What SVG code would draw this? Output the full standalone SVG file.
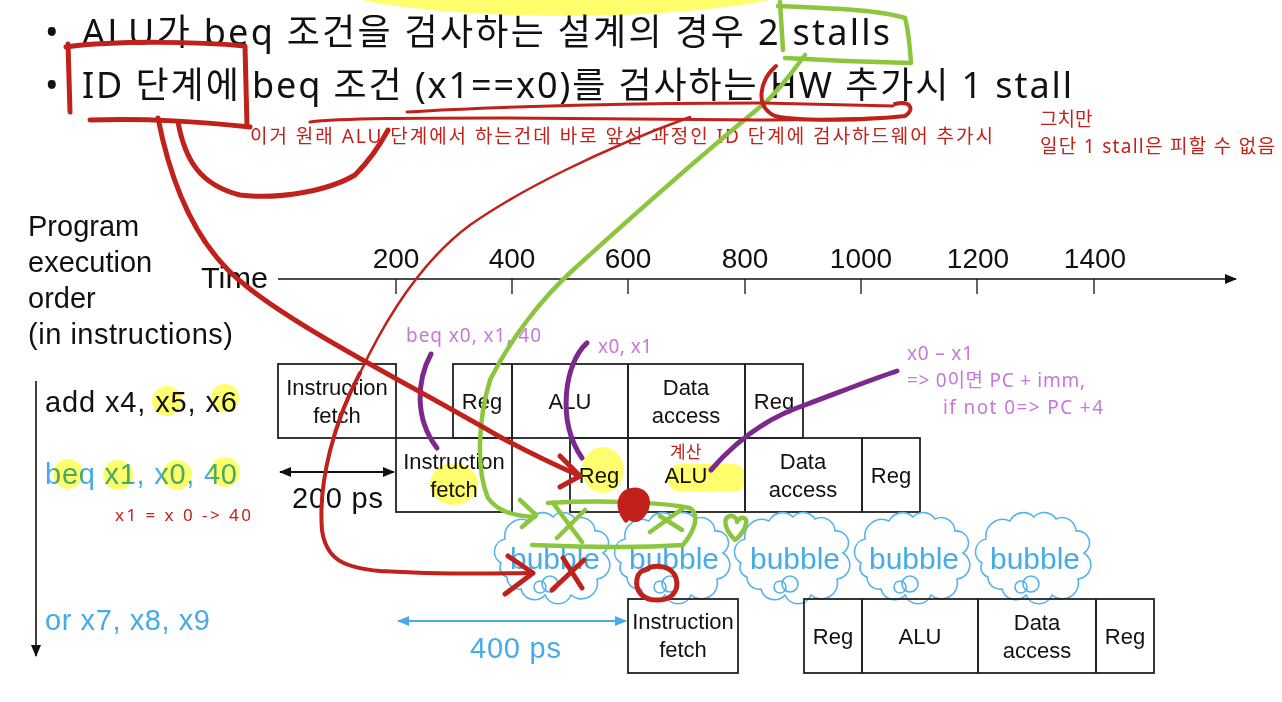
<svg xmlns="http://www.w3.org/2000/svg" width="1282" height="702" viewBox="0 0 1282 702">
<style>
.ttl{font-family:"Noto Sans","Noto Sans CJK KR",sans-serif;font-size:36px;fill:#111}
.ar{font-family:"Liberation Sans",Arial,sans-serif;fill:#111}
.big{font-size:29px}
.lbl{font-size:22px;text-anchor:middle}
.num{font-size:28px;text-anchor:middle}
.blue{fill:#47ABE8}
.kr{font-family:"Noto Sans","Noto Sans CJK KR",sans-serif}
.rt{fill:#C22119;font-size:19px}
.pt{fill:#C678D9;font-size:19px}
.box{fill:none;stroke:#222;stroke-width:1.8}
.hl{fill:#FFFF6E;mix-blend-mode:multiply}
.red{fill:none;stroke:#C0211B;stroke-linecap:round;stroke-linejoin:round}
.pur{fill:none;stroke:#7B2A8C;stroke-width:5;stroke-linecap:round}
.grn{fill:none;stroke:#8CC63F;stroke-width:4.5;stroke-linecap:round;stroke-linejoin:round}
.cloud{fill:none;stroke:#56B3EA;stroke-width:1.6}
.btxt{font-family:"Liberation Sans",Arial,sans-serif;font-size:30px;fill:#47ABE8;text-anchor:middle}
</style>
<defs>
<g id="cloud">
<path class="cloud" d="M -50 8 A 13 13 0 0 1 -46 -16 A 17 17 0 0 1 -22 -34 A 15 15 0 0 1 2 -38 A 14 14 0 0 1 24 -36 A 14 14 0 0 1 44 -24 A 12 12 0 0 1 52 -2 A 14 14 0 0 1 46 24 A 16 16 0 0 1 20 40 A 14 14 0 0 1 -6 40 A 14 14 0 0 1 -30 34 A 12 12 0 0 1 -44 22 A 10 10 0 0 1 -50 8 Z"/>
<circle class="cloud" cx="-11" cy="32" r="6"/>
<circle class="cloud" cx="-1" cy="29" r="8"/>
</g>
<marker id="ahb" viewBox="0 0 12 10" refX="11" refY="5" markerWidth="12" markerHeight="10" markerUnits="userSpaceOnUse" orient="auto-start-reverse"><path d="M0 0 L12 5 L0 10 Z" fill="#111"/></marker>
<marker id="ahl" viewBox="0 0 12 10" refX="11" refY="5" markerWidth="12" markerHeight="10" markerUnits="userSpaceOnUse" orient="auto-start-reverse"><path d="M0 0 L12 5 L0 10 Z" fill="#47ABE8"/></marker>
</defs>
<rect width="1282" height="702" fill="#fff"/>

<!-- top yellow highlight -->
<ellipse class="hl" cx="565" cy="-27" rx="262" ry="43"/>

<!-- title -->
<g id="title">
<text class="ttl" x="45" y="45">•</text>
<text class="ttl" x="82" y="45" textLength="808" lengthAdjust="spacing">ALU가 beq 조건을 검사하는 설계의 경우 2 stalls</text>
<text class="ttl" x="45" y="98">•</text>
<text class="ttl" x="82" y="98" textLength="990" lengthAdjust="spacing">ID 단계에 beq 조건 (x1==x0)를 검사하는 HW 추가시  1 stall</text>
</g>

<!-- notes -->
<g id="notes">
<text class="kr rt" x="250" y="143" textLength="743" lengthAdjust="spacing">이거 원래 ALU 단계에서 하는건데 바로 앞선 과정인 ID 단계에 검사하드웨어 추가시</text>
<text class="kr rt" x="1040" y="126">그치만</text>
<text class="kr rt" x="1040" y="153" textLength="235" lengthAdjust="spacing">일단 1 stall은 피할 수 없음</text>
<text class="kr pt" x="406" y="342" textLength="135" lengthAdjust="spacing">beq x0, x1, 40</text>
<text class="kr pt" x="598" y="353" textLength="54" lengthAdjust="spacing">x0, x1</text>
<text class="kr pt" x="907" y="360" textLength="66" lengthAdjust="spacing">x0 – x1</text>
<text class="kr pt" x="907" y="387" textLength="178" lengthAdjust="spacing">=&gt; 0이면 PC + imm,</text>
<text class="kr pt" x="943" y="414" textLength="160" lengthAdjust="spacing">if not 0=&gt; PC +4</text>
<text class="kr" x="670" y="458" font-size="17" fill="#C22119">계산</text>
<text class="kr" x="115" y="521" font-size="17" fill="#C22119" textLength="136" lengthAdjust="spacing">x1 = x 0 -&gt; 40</text>
</g>

<!-- left labels -->
<g id="order-label" class="ar big">
<text x="28" y="236">Program</text>
<text x="28" y="272">execution</text>
<text x="28" y="308">order</text>
<text x="28" y="344" textLength="205" lengthAdjust="spacing">(in instructions)</text>
</g>
<g id="instr-add"><text class="ar big" x="45" y="412" textLength="192" lengthAdjust="spacing">add x4, x5, x6</text></g>
<g id="instr-beq"><text class="ar big blue" x="45" y="484" textLength="192" lengthAdjust="spacing">beq x1, x0, 40</text></g>
<g id="instr-or"><text class="ar big blue" x="45" y="630" textLength="165" lengthAdjust="spacing">or x7, x8, x9</text></g>

<!-- time axis labels -->
<g id="time-axis" class="ar">
<text x="201" y="288" font-size="29" textLength="67" lengthAdjust="spacingAndGlyphs">Time</text>
<text class="num" x="396" y="268">200</text>
<text class="num" x="512" y="268">400</text>
<text class="num" x="628" y="268">600</text>
<text class="num" x="745" y="268">800</text>
<text class="num" x="861" y="268">1000</text>
<text class="num" x="978" y="268">1200</text>
<text class="num" x="1095" y="268">1400</text>
</g>

<!-- row 1: add -->
<g id="add-IF"><rect class="box" x="278" y="364" width="118" height="74"/><text class="ar lbl" x="337" y="395">Instruction</text><text class="ar lbl" x="337" y="423">fetch</text></g>
<g id="add-Reg1"><rect class="box" x="453" y="364" width="59" height="74"/><text class="ar lbl" x="482" y="409">Reg</text></g>
<g id="add-ALU"><rect class="box" x="512" y="364" width="116" height="74"/><text class="ar lbl" x="570" y="409">ALU</text></g>
<g id="add-DA"><rect class="box" x="628" y="364" width="117" height="74"/><text class="ar lbl" x="686" y="395">Data</text><text class="ar lbl" x="686" y="423">access</text></g>
<g id="add-Reg2"><rect class="box" x="745" y="364" width="58" height="74"/><text class="ar lbl" x="774" y="409">Reg</text></g>

<!-- row 2: beq -->
<g id="beq-IF"><rect class="box" x="396" y="438" width="116" height="74"/><text class="ar lbl" x="454" y="469">Instruction</text><text class="ar lbl" x="454" y="497">fetch</text></g>
<g id="beq-Reg1"><rect class="box" x="570" y="438" width="58" height="74"/><text class="ar lbl" x="599" y="483">Reg</text></g>
<g id="beq-ALU"><rect class="box" x="628" y="438" width="117" height="74"/><text class="ar lbl" x="686" y="483">ALU</text></g>
<g id="beq-DA"><rect class="box" x="745" y="438" width="117" height="74"/><text class="ar lbl" x="803" y="469">Data</text><text class="ar lbl" x="803" y="497">access</text></g>
<g id="beq-Reg2"><rect class="box" x="862" y="438" width="58" height="74"/><text class="ar lbl" x="891" y="483">Reg</text></g>

<!-- bubbles -->
<g id="bubble1"><use href="#cloud" x="551" y="555"/><text class="btxt" x="555" y="569">bubble</text></g>
<g id="bubble2"><use href="#cloud" x="671" y="555"/><text class="btxt" x="674" y="569">bubble</text></g>
<g id="bubble3"><use href="#cloud" x="791" y="555"/><text class="btxt" x="795" y="569">bubble</text></g>
<g id="bubble4"><use href="#cloud" x="911" y="555"/><text class="btxt" x="914" y="569">bubble</text></g>
<g id="bubble5"><use href="#cloud" x="1032" y="555"/><text class="btxt" x="1035" y="569">bubble</text></g>

<!-- row 3: or -->
<g id="or-IF"><rect class="box" x="628" y="599" width="110" height="74"/><text class="ar lbl" x="683" y="629">Instruction</text><text class="ar lbl" x="683" y="657">fetch</text></g>
<g id="or-Reg1"><rect class="box" x="804" y="599" width="58" height="74"/><text class="ar lbl" x="833" y="644">Reg</text></g>
<g id="or-ALU"><rect class="box" x="862" y="599" width="116" height="74"/><text class="ar lbl" x="920" y="644">ALU</text></g>
<g id="or-DA"><rect class="box" x="978" y="599" width="118" height="74"/><text class="ar lbl" x="1037" y="630">Data</text><text class="ar lbl" x="1037" y="658">access</text></g>
<g id="or-Reg2"><rect class="box" x="1096" y="599" width="58" height="74"/><text class="ar lbl" x="1125" y="644">Reg</text></g>

<!-- dimension labels -->
<g id="dim-200"><text class="ar big" x="292" y="508" textLength="91" lengthAdjust="spacing">200 ps</text></g>
<g id="dim-400"><text class="ar big blue" x="470" y="658" textLength="91" lengthAdjust="spacing">400 ps</text></g>

<!-- connectors -->
<g id="connectors" fill="none">
<line x1="278" y1="279" x2="1236" y2="279" stroke="#111" stroke-width="1.6" marker-end="url(#ahb)"/>
<g stroke="#111" stroke-width="1.3">
<line x1="396" y1="279" x2="396" y2="294"/><line x1="512" y1="279" x2="512" y2="294"/><line x1="628" y1="279" x2="628" y2="294"/><line x1="745" y1="279" x2="745" y2="294"/><line x1="861" y1="279" x2="861" y2="294"/><line x1="977" y1="279" x2="977" y2="294"/><line x1="1094" y1="279" x2="1094" y2="294"/>
</g>
<line x1="36" y1="381" x2="36" y2="656" stroke="#111" stroke-width="1.6" marker-end="url(#ahb)"/>
<line x1="280" y1="472" x2="394" y2="472" stroke="#111" stroke-width="2" marker-start="url(#ahb)" marker-end="url(#ahb)"/>
<line x1="398" y1="621" x2="626" y2="621" stroke="#47ABE8" stroke-width="2" marker-start="url(#ahl)" marker-end="url(#ahl)"/>
</g>

<!-- yellow highlights (multiply) -->
<g id="highlights">
<circle class="hl" cx="167" cy="401" r="15"/>
<circle class="hl" cx="225" cy="398" r="14"/>
<circle class="hl" cx="68" cy="474" r="15"/>
<circle class="hl" cx="118" cy="475" r="15"/>
<circle class="hl" cx="177" cy="475" r="15"/>
<circle class="hl" cx="225" cy="472" r="15"/>
<ellipse class="hl" cx="454" cy="484" rx="24" ry="21"/>
<ellipse class="hl" cx="603" cy="470" rx="21" ry="23"/>
<rect class="hl" x="668" y="464" width="78" height="28" rx="13"/>
</g>

<!-- handwritten annotations -->
<g id="ink-purple">
<path class="pur" d="M 431 354 C 417 380, 414 418, 437 448"/>
<path class="pur" d="M 587 343 C 565 362, 556 420, 582 458"/>
<path class="pur" d="M 711 470 C 730 448, 760 420, 805 405 C 840 392, 870 380, 897 371"/>
</g>
<g id="ink-green">
<path class="grn" d="M 780 2 L 783 50"/>
<path class="grn" d="M 778 6 C 830 8, 880 10, 905 18 C 909 32, 910 50, 911 63 C 870 62, 820 60, 785 58"/>
<path class="grn" d="M 805 55 C 790 75, 775 95, 760 107 C 720 140, 650 200, 573 270 C 540 300, 510 340, 490 380 C 478 420, 476 470, 488 498 C 498 512, 515 516, 535 517"/>
<path class="grn" d="M 520 500 L 536 515 L 522 527"/>
<path class="grn" d="M 548 503 C 600 500, 660 502, 690 508 C 700 515, 695 530, 683 545 C 640 548, 580 547, 532 545"/>
<path class="grn" d="M 553 503 L 582 542 M 585 510 L 557 538"/>
<path class="grn" d="M 650 532 L 682 509 M 660 516 L 682 530"/>
<path class="grn" d="M 735 540 C 725 530, 722 518, 730 516 C 735 515, 737 520, 737 522 C 740 516, 748 516, 746 524 C 744 532, 738 538, 735 540 Z"/>
</g>
<g id="ink-red">
<path class="red" stroke-width="5" d="M 68 44 L 70 112"/>
<path class="red" stroke-width="5" d="M 66 47 C 120 40, 200 42, 245 46 L 247 126"/>
<path class="red" stroke-width="5" d="M 90 120 C 150 118, 200 122, 250 127"/>
<path class="red" stroke-width="3" d="M 407 112 C 500 106, 650 103, 760 103 L 893 106"/>
<path class="red" stroke-width="3" d="M 310 122 C 340 118, 420 118, 500 118 L 760 120 C 800 120, 850 119, 880 118"/>
<path class="red" stroke-width="4" d="M 776 66 C 760 80, 754 106, 775 116 C 800 122, 870 120, 905 116 C 915 110, 911 100, 895 104"/>
<path class="red" stroke-width="5" d="M 158 118 C 172 190, 200 250, 245 285 C 300 330, 420 390, 500 437 C 530 453, 555 465, 578 475"/>
<path class="red" stroke-width="5" d="M 560 456 L 580 476 L 560 487"/>
<path class="red" stroke-width="5" d="M 178 122 C 185 160, 200 185, 240 195 C 280 200, 330 190, 355 175 C 370 160, 380 145, 388 130"/>
<path class="red" stroke-width="2.5" d="M 690 117 C 600 150, 520 190, 470 225 C 420 262, 385 320, 360 373"/>
<path class="red" stroke-width="4" d="M 360 373 C 335 420, 318 480, 322 530 C 326 560, 345 568, 380 571 C 430 574, 480 574, 530 573"/>
<path class="red" stroke-width="5" d="M 508 556 L 533 573 L 505 594"/>
<path class="red" stroke-width="5" d="M 563 558 L 582 588 M 584 560 L 552 590"/>
<ellipse cx="634" cy="505" rx="14" ry="14" fill="#C0211B"/>
<path class="red" stroke-width="5" d="M 626 520 C 615 505, 620 490, 636 490 C 652 492, 650 512, 638 519 C 628 522, 622 510, 630 500"/>
<path class="red" stroke-width="5" d="M 645 570 C 655 563, 672 566, 676 578 C 680 592, 670 601, 656 600 C 642 600, 635 590, 637 579 C 638 572, 642 570, 648 569"/>
</g>
</svg>
